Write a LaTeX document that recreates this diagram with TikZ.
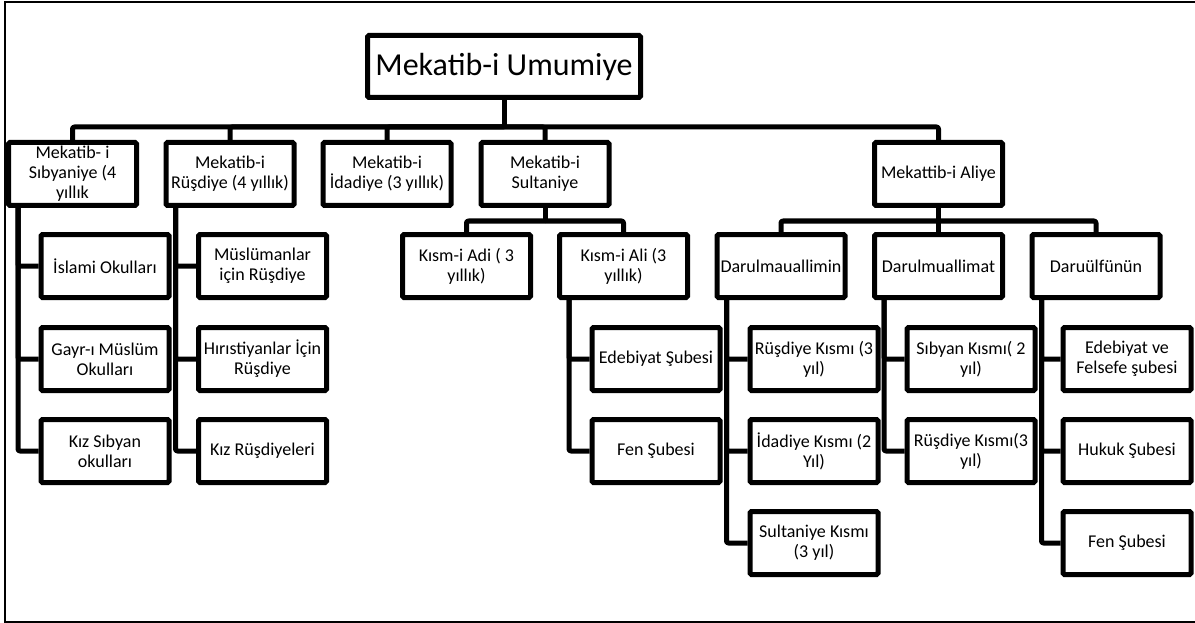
\documentclass[tikz,border=0pt]{standalone}
\usepackage{fontspec}
\setmainfont{Carlito}
\usetikzlibrary{positioning}

\begin{document}
\begin{tikzpicture}[
    box/.style={draw, line width=5pt, rounded corners=1.5pt, inner sep=0pt, align=center,
        minimum width=128pt, minimum height=63pt, font=\fontsize{18}{20}\selectfont},
    link/.style={line width=5pt, line join=round, rounded corners=2pt},
    frameline/.style={line width=2pt},
    x = 1pt,
    y = -1pt
    ]
    \useasboundingbox (0,0) rectangle (1195,623);
    \draw[frameline] (1195,2) -- (5,2) -- (5,622) -- (1195,622);

    \node[box, minimum width=273pt, minimum height=62pt, font=\fontsize{32}{38}\selectfont] (root) at (504,66.5) {Mekatib-i Umumiye};

    \node[box] (sib) at (72.5,174) {Mekatib- i\\Sıbyaniye (4\\yıllık};
    \node[box] (rus) at (230,174) {Mekatib-i\\Rüşdiye (4 yıllık)};
    \node[box] (ida) at (387,174) {Mekatib-i\\İdadiye (3 yıllık)};
    \node[box] (sul) at (545,174) {Mekatib-i\\Sultaniye};
    \node[box] (ali) at (938.5,174) {Mekattib-i Aliye};

    \node[box] (sib1) at (105,266) {İslami Okulları};
    \node[box] (sib2) at (105,359) {Gayr-ı Müslüm\\Okulları};
    \node[box] (sib3) at (105,451) {Kız Sıbyan\\okulları};

    \node[box] (rus1) at (262.5,266) {Müslümanlar\\için Rüşdiye};
    \node[box] (rus2) at (262.5,359) {Hırıstiyanlar İçin\\Rüşdiye};
    \node[box] (rus3) at (262.5,451) {Kız Rüşdiyeleri};

    \node[box] (adi) at (466.5,266) {Kısm-i Adi ( 3\\yıllık)};
    \node[box] (alik) at (623.5,266) {Kısm-i Ali (3\\yıllık)};
    \node[box] (alik1) at (656,359) {Edebiyat Şubesi};
    \node[box] (alik2) at (656,451) {Fen Şubesi};

    \node[box] (dmin) at (781,266) {Darulmauallimin};
    \node[box] (dmat) at (938.5,266) {Darulmuallimat};
    \node[box] (dfun) at (1096,266) {Daruülfünün};

    \node[box] (dmin1) at (814,359) {Rüşdiye Kısmı (3\\yıl)};
    \node[box] (dmin2) at (814,451) {İdadiye Kısmı (2\\Yıl)};
    \node[box] (dmin3) at (814,543) {Sultaniye Kısmı\\(3 yıl)};

    \node[box] (dmat1) at (971,359) {Sıbyan Kısmı( 2\\yıl)};
    \node[box] (dmat2) at (971,451) {Rüşdiye Kısmı(3\\yıl)};

    \node[box] (dfun1) at (1127,359) {Edebiyat ve\\Felsefe şubesi};
    \node[box] (dfun2) at (1127,451) {Hukuk Şubesi};
    \node[box] (dfun3) at (1127,543) {Fen Şubesi};

    % main bus
    \coordinate (topbus) at (504,127);
    \draw[link] (root.south) -- (topbus);
    \draw[link] (topbus) -| (sib.north);
    \draw[link] (topbus) -| (rus.north);
    \draw[link] (topbus) -| (ida.north);
    \draw[link] (topbus) -| (sul.north);
    \draw[link] (topbus) -| (ali.north);

    % sultaniye and aliye buses
    \coordinate (sulbus) at (545,221);
    \draw[link] (sul.south) -- (sulbus);
    \draw[link] (sulbus) -| (adi.north);
    \draw[link] (sulbus) -| (alik.north);
    \coordinate (alibus) at (938.5,221);
    \draw[link] (ali.south) -- (alibus);
    \draw[link] (alibus) -| (dmin.north);
    \draw[link] (alibus) -| (dmat.north);
    \draw[link] (alibus) -| (dfun.north);

    % side branches
    \draw[link] ([xshift=12pt]sib.south west) |- (sib1.west);
    \draw[link] ([xshift=12pt]sib.south west) |- (sib2.west);
    \draw[link] ([xshift=12pt]sib.south west) |- (sib3.west);
    \draw[link] ([xshift=12pt]rus.south west) |- (rus1.west);
    \draw[link] ([xshift=12pt]rus.south west) |- (rus2.west);
    \draw[link] ([xshift=12pt]rus.south west) |- (rus3.west);
    \draw[link] ([xshift=12pt]alik.south west) |- (alik1.west);
    \draw[link] ([xshift=12pt]alik.south west) |- (alik2.west);
    \draw[link] ([xshift=12pt]dmin.south west) |- (dmin1.west);
    \draw[link] ([xshift=12pt]dmin.south west) |- (dmin2.west);
    \draw[link] ([xshift=12pt]dmin.south west) |- (dmin3.west);
    \draw[link] ([xshift=12pt]dmat.south west) |- (dmat1.west);
    \draw[link] ([xshift=12pt]dmat.south west) |- (dmat2.west);
    \draw[link] ([xshift=12pt]dfun.south west) |- (dfun1.west);
    \draw[link] ([xshift=12pt]dfun.south west) |- (dfun2.west);
    \draw[link] ([xshift=12pt]dfun.south west) |- (dfun3.west);
\end{tikzpicture}
\end{document}
